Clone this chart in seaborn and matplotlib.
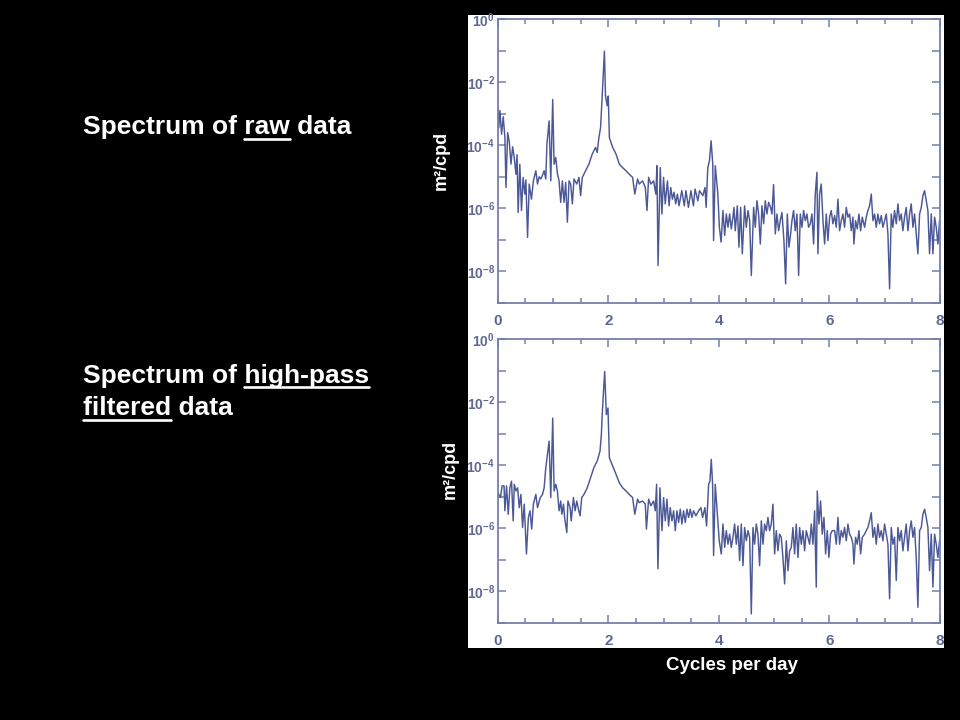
import numpy as np
import pandas as pd
import matplotlib
matplotlib.use('Agg')
import matplotlib.pyplot as plt
import seaborn as sns
from matplotlib.lines import Line2D
from matplotlib.patches import Rectangle
from matplotlib.ticker import MultipleLocator, NullLocator

# Spectrum of raw data: frequency (cycles per day) and log10 of power (m^2/cpd)
raw_freq = [
    0.00, 0.02, 0.04, 0.07, 0.10, 0.13, 0.15, 0.18, 0.21, 0.24,
    0.27, 0.30, 0.33, 0.35, 0.37, 0.40, 0.43, 0.46, 0.49, 0.51,
    0.54, 0.57, 0.61, 0.645, 0.69, 0.72, 0.75, 0.78, 0.81, 0.84,
    0.87, 0.89, 0.93, 0.96, 0.995, 1.02, 1.05, 1.08, 1.11, 1.14,
    1.17, 1.20, 1.23, 1.26, 1.29, 1.32, 1.35, 1.38, 1.43, 1.47,
    1.50, 1.53, 1.59, 1.65, 1.71, 1.77, 1.80, 1.83, 1.86, 1.89,
    1.93, 1.95, 1.98, 2.00, 2.02, 2.08, 2.14, 2.20, 2.26, 2.32,
    2.38, 2.44, 2.48, 2.53, 2.56, 2.62, 2.67, 2.70, 2.73, 2.77,
    2.82, 2.86, 2.88, 2.90, 2.94, 2.97, 3.00, 3.03, 3.07, 3.10,
    3.13, 3.16, 3.19, 3.22, 3.25, 3.28, 3.33, 3.375, 3.405, 3.45,
    3.495, 3.54, 3.57, 3.62, 3.65, 3.71, 3.75, 3.77, 3.80, 3.83,
    3.86, 3.89, 3.905, 3.935, 3.98, 4.01, 4.04, 4.074, 4.105, 4.135,
    4.165, 4.195, 4.225, 4.255, 4.273, 4.297, 4.334, 4.364, 4.394, 4.424,
    4.466, 4.496, 4.527, 4.557, 4.587, 4.629, 4.659, 4.689, 4.719, 4.75,
    4.78, 4.81, 4.84, 4.87, 4.90, 4.936, 4.96, 4.99, 5.021, 5.051,
    5.081, 5.111, 5.141, 5.177, 5.208, 5.238, 5.268, 5.298, 5.322, 5.352,
    5.382, 5.413, 5.443, 5.473, 5.503, 5.533, 5.563, 5.593, 5.623, 5.654,
    5.684, 5.714, 5.744, 5.774, 5.792, 5.822, 5.852, 5.883, 5.913, 5.943,
    5.973, 6.003, 6.033, 6.063, 6.094, 6.124, 6.154, 6.184, 6.214, 6.244,
    6.274, 6.305, 6.335, 6.365, 6.395, 6.425, 6.443, 6.473, 6.503, 6.534,
    6.564, 6.594, 6.636, 6.666, 6.696, 6.726, 6.757, 6.787, 6.817, 6.847,
    6.877, 6.907, 6.937, 6.968, 6.998, 7.028, 7.058, 7.088, 7.118, 7.148,
    7.178, 7.209, 7.239, 7.269, 7.299, 7.329, 7.359, 7.389, 7.42, 7.45,
    7.48, 7.51, 7.54, 7.57, 7.60, 7.631, 7.661, 7.691, 7.721, 7.751,
    7.781, 7.811, 7.842, 7.872, 7.902, 7.932, 7.962, 7.992,
]
raw_log_power = [
    -2.80, -3.44, -2.90, -3.65, -3.10, -3.75, -5.34, -3.60, -3.90, -4.60,
    -4.05, -4.40, -4.92, -4.30, -6.13, -4.60, -6.07, -5.02, -5.55, -5.10,
    -6.92, -5.23, -5.71, -5.13, -4.81, -5.23, -5.00, -5.07, -4.95, -4.81,
    -5.07, -3.97, -3.23, -5.13, -2.55, -4.60, -4.39, -4.90, -5.13, -5.81,
    -5.13, -5.81, -5.18, -6.44, -5.13, -5.23, -5.86, -5.07, -5.23, -5.02,
    -5.60, -5.02, -4.81, -4.60, -4.28, -4.07, -4.23, -3.76, -3.45, -2.45,
    -1.02, -2.44, -2.75, -2.44, -3.76, -4.07, -4.28, -4.60, -4.71, -4.81,
    -4.92, -5.02, -5.55, -5.07, -5.23, -5.13, -5.34, -6.07, -5.02, -5.23,
    -5.13, -5.55, -4.65, -7.81, -4.71, -6.18, -5.02, -5.86, -5.13, -5.92,
    -5.34, -5.71, -5.49, -5.86, -5.55, -5.92, -5.44, -5.92, -5.44, -5.97,
    -5.44, -5.92, -5.39, -5.76, -5.44, -5.60, -5.34, -5.97, -4.71, -4.49,
    -3.86, -4.60, -7.02, -4.65, -5.50, -6.60, -7.07, -6.07, -6.86, -6.18,
    -6.60, -6.18, -6.65, -6.28, -5.97, -6.71, -5.92, -7.23, -5.97, -7.44,
    -5.92, -6.60, -6.07, -6.39, -8.13, -5.97, -6.60, -5.76, -6.18, -7.13,
    -5.92, -6.49, -5.76, -6.18, -5.81, -5.97, -6.18, -5.25, -6.81, -6.18,
    -6.71, -6.39, -6.13, -7.02, -8.39, -6.18, -7.23, -6.81, -6.39, -6.07,
    -6.71, -6.18, -8.13, -6.18, -6.60, -6.07, -6.39, -6.18, -6.60, -6.49,
    -6.18, -7.13, -5.55, -4.86, -7.44, -5.55, -5.23, -6.39, -7.13, -6.18,
    -7.02, -6.28, -6.07, -6.49, -6.23, -6.60, -5.71, -6.71, -6.39, -6.18,
    -6.60, -5.97, -6.28, -6.18, -6.71, -6.28, -7.13, -6.39, -6.65, -6.18,
    -6.71, -6.28, -6.60, -6.28, -6.07, -5.92, -5.55, -6.39, -6.18, -6.60,
    -6.18, -6.49, -6.23, -6.60, -6.39, -6.18, -6.81, -8.55, -6.18, -6.60,
    -6.07, -6.49, -5.86, -6.39, -6.18, -6.71, -6.28, -5.97, -6.71, -6.18,
    -5.86, -6.60, -6.18, -6.81, -7.44, -6.18, -5.97, -5.60, -5.44, -5.76,
    -6.07, -7.44, -6.18, -7.44, -6.28, -6.60, -7.13, -6.39,
]

# Spectrum of high-pass filtered data
hp_freq = [
    0.00, 0.02, 0.05, 0.08, 0.115, 0.13, 0.16, 0.19, 0.22, 0.25,
    0.28, 0.30, 0.33, 0.36, 0.39, 0.42, 0.45, 0.48, 0.52, 0.555,
    0.585, 0.615, 0.645, 0.69, 0.72, 0.77, 0.81, 0.84, 0.87, 0.90,
    0.93, 0.96, 0.995, 1.02, 1.05, 1.08, 1.11, 1.14, 1.16, 1.19,
    1.21, 1.25, 1.27, 1.31, 1.33, 1.37, 1.40, 1.43, 1.46, 1.49,
    1.52, 1.56, 1.62, 1.68, 1.74, 1.80, 1.85, 1.875, 1.89, 1.935,
    1.965, 1.995, 2.02, 2.08, 2.14, 2.20, 2.26, 2.32, 2.38, 2.44,
    2.48, 2.53, 2.56, 2.62, 2.67, 2.69, 2.73, 2.77, 2.82, 2.85,
    2.874, 2.898, 2.934, 2.971, 3.001, 3.031, 3.061, 3.091, 3.121, 3.151,
    3.182, 3.212, 3.242, 3.272, 3.302, 3.332, 3.362, 3.393, 3.423, 3.453,
    3.483, 3.513, 3.543, 3.585, 3.634, 3.676, 3.706, 3.748, 3.778, 3.815,
    3.839, 3.863, 3.887, 3.905, 3.935, 3.977, 4.007, 4.044, 4.074, 4.105,
    4.135, 4.165, 4.195, 4.225, 4.255, 4.285, 4.316, 4.346, 4.376, 4.406,
    4.436, 4.466, 4.496, 4.527, 4.557, 4.587, 4.617, 4.647, 4.677, 4.707,
    4.737, 4.768, 4.798, 4.828, 4.858, 4.888, 4.918, 4.948, 4.978, 5.009,
    5.039, 5.069, 5.099, 5.129, 5.159, 5.19, 5.22, 5.25, 5.28, 5.31,
    5.34, 5.37, 5.40, 5.431, 5.461, 5.491, 5.521, 5.551, 5.581, 5.611,
    5.642, 5.672, 5.702, 5.732, 5.762, 5.78, 5.81, 5.84, 5.87, 5.901,
    5.931, 5.961, 5.991, 6.021, 6.051, 6.094, 6.124, 6.154, 6.184, 6.214,
    6.244, 6.274, 6.305, 6.335, 6.365, 6.395, 6.425, 6.443, 6.473, 6.503,
    6.534, 6.564, 6.594, 6.636, 6.666, 6.696, 6.726, 6.757, 6.787, 6.817,
    6.847, 6.877, 6.907, 6.937, 6.968, 6.998, 7.058, 7.088, 7.118, 7.148,
    7.178, 7.209, 7.239, 7.269, 7.299, 7.329, 7.359, 7.389, 7.42, 7.45,
    7.48, 7.51, 7.54, 7.57, 7.60, 7.631, 7.661, 7.691, 7.721, 7.751,
    7.781, 7.811, 7.842, 7.872, 7.902, 7.932, 7.962, 7.992,
]
hp_log_power = [
    -4.87, -4.93, -5.03, -4.66, -4.66, -5.45, -4.66, -5.56, -4.72, -4.51,
    -5.77, -4.61, -4.82, -4.72, -5.35, -4.93, -5.98, -5.24, -6.82, -5.66,
    -5.45, -6.03, -5.24, -4.93, -5.35, -5.03, -4.93, -4.72, -4.08, -3.66,
    -3.24, -5.03, -2.51, -4.82, -4.61, -4.82, -5.45, -5.14, -5.56, -5.24,
    -5.66, -6.14, -5.14, -5.35, -5.77, -5.03, -5.45, -5.14, -5.40, -5.61,
    -5.03, -4.93, -4.72, -4.40, -4.08, -3.87, -3.56, -3.03, -2.40, -1.03,
    -2.40, -2.19, -3.77, -4.03, -4.29, -4.56, -4.72, -4.82, -4.93, -5.03,
    -5.56, -5.08, -5.19, -5.14, -5.24, -6.03, -5.08, -5.29, -5.14, -5.45,
    -4.61, -7.29, -4.72, -6.08, -5.03, -5.77, -5.08, -5.93, -5.35, -5.77,
    -5.45, -6.08, -5.45, -5.82, -5.40, -5.87, -5.45, -5.82, -5.40, -5.66,
    -5.40, -5.66, -5.45, -5.61, -5.45, -5.35, -5.66, -5.35, -5.93, -4.61,
    -4.51, -3.82, -4.61, -6.87, -4.61, -5.66, -6.40, -6.82, -5.87, -6.61,
    -6.08, -6.51, -6.19, -6.61, -6.29, -5.87, -6.51, -5.93, -7.03, -5.87,
    -7.19, -5.98, -6.40, -6.08, -6.29, -8.72, -5.98, -6.51, -5.87, -6.19,
    -7.19, -5.77, -6.51, -5.87, -6.08, -5.66, -6.08, -5.87, -5.24, -6.82,
    -6.08, -6.72, -6.19, -6.29, -6.93, -7.77, -6.40, -7.35, -6.72, -6.61,
    -5.98, -6.82, -5.87, -6.93, -5.98, -6.51, -6.08, -6.72, -6.08, -6.29,
    -6.51, -5.87, -6.51, -5.45, -7.87, -4.82, -5.87, -5.14, -6.19, -5.66,
    -6.82, -6.08, -6.93, -6.19, -6.08, -6.08, -6.51, -5.66, -6.51, -6.08,
    -6.29, -5.98, -6.40, -5.87, -6.19, -6.29, -6.51, -7.14, -6.29, -6.51,
    -6.08, -6.82, -6.29, -6.19, -6.08, -5.98, -5.77, -5.51, -6.29, -5.98,
    -6.51, -5.87, -6.29, -6.08, -6.40, -5.87, -6.51, -8.24, -5.98, -6.51,
    -6.29, -7.66, -5.98, -6.40, -6.08, -6.72, -6.29, -5.87, -6.72, -6.08,
    -5.77, -6.29, -5.98, -6.93, -8.51, -6.08, -5.98, -5.56, -5.40, -5.66,
    -5.98, -7.35, -6.19, -7.87, -6.19, -6.51, -6.93, -6.40,
]

x_ticks = [0, 2, 4, 6, 8]
decades = list(range(-9, 1))

assert len(raw_freq) == len(raw_log_power)
assert len(hp_freq) == len(hp_log_power)

sns.set_theme(style='ticks')
plt.rcParams['font.family'] = ['Liberation Sans', 'DejaVu Sans']
plt.rcParams['mathtext.fontset'] = 'custom'
plt.rcParams['mathtext.rm'] = 'Liberation Sans'
plt.rcParams['mathtext.bf'] = 'Liberation Sans:bold'

W, H = 960, 720
LINE = '#4b5896'
FRAME = '#7480aa'
LABEL = '#5d6895'

fig = plt.figure(figsize=(W / 100, H / 100), dpi=100, facecolor='black')
renderer = fig.canvas.get_renderer()


def px_rect(left, top, right, bottom):
    """Rectangle in pixels (origin top-left) -> figure fraction."""
    return [left / W, 1 - bottom / H, (right - left) / W, (bottom - top) / H]


# White backing panel behind the two spectra
l, b, w, h = px_rect(468, 15, 944, 648)
fig.add_artist(Rectangle((l, b), w, h, transform=fig.transFigure,
                         facecolor='white', edgecolor='none', zorder=0))


def spectrum_panel(rect, freq, log_power):
    ax = fig.add_axes(rect)
    df = pd.DataFrame({'freq': freq, 'power': 10.0 ** np.array(log_power)})
    sns.lineplot(data=df, x='freq', y='power', ax=ax, color=LINE,
                 linewidth=1.05, estimator=None, sort=False)
    ax.set_yscale('log')
    ax.set_ylim(1e-9, 1)
    ax.set_xlim(0, 8)

    ax.set_xticks(x_ticks)
    ax.set_xticklabels([str(t) for t in x_ticks], fontsize=11, fontweight='bold')
    ax.xaxis.set_minor_locator(MultipleLocator(0.5))

    ylabels = [r'$\mathbf{10^{%d}}$' % k if k % 2 == 0 else '' for k in decades]
    ax.set_yticks([10.0 ** k for k in decades])
    ax.set_yticklabels(ylabels, fontsize=10)
    ax.yaxis.set_minor_locator(NullLocator())

    ax.tick_params(which='both', direction='in', top=True, right=True,
                   color=FRAME, labelcolor=LABEL, width=1.1)
    ax.tick_params(which='major', length=6)
    ax.tick_params(which='minor', length=3.5)
    ax.tick_params(axis='x', pad=8)
    ax.tick_params(axis='y', pad=2)
    for spine in ax.spines.values():
        spine.set_color(FRAME)
        spine.set_linewidth(1.3)
    ax.set_xlabel('')
    ax.set_ylabel('')
    ax.set_facecolor('white')
    return ax


ax_raw = spectrum_panel(px_rect(497.7, 19, 940, 303), raw_freq, raw_log_power)
ax_hp = spectrum_panel(px_rect(497.7, 339, 940, 622.7), hp_freq, hp_log_power)

# Axis titles on the black background
fig.text(441 / W, 1 - 160 / H, 'm²/cpd', rotation=90, color='white',
         fontsize=13, fontweight='bold', ha='center', va='center')
fig.text(450 / W, 1 - 469 / H, 'm²/cpd', rotation=90, color='white',
         fontsize=13, fontweight='bold', ha='center', va='center')
fig.text(732 / W, 1 - 666 / H, 'Cycles per day', color='white',
         fontsize=13.5, fontweight='bold', ha='center', va='center')


def text_width(s, size):
    t = fig.text(0, 0, s, fontsize=size, fontweight='bold')
    width = t.get_window_extent(renderer).width
    t.remove()
    return width


def caption(x, baseline, text, word, line_y, size=19):
    """Left caption text with one underlined word (pixel coords, top-left origin)."""
    fig.text(x / W, 1 - baseline / H, text, color='white', fontsize=size,
             fontweight='bold', ha='left', va='baseline')
    end = x + text_width(text[:text.index(word) + len(word)], size)
    start = end - text_width(word, size)
    fig.add_artist(Line2D([start / W, end / W], [1 - line_y / H] * 2,
                          transform=fig.transFigure, color='white', linewidth=1.9))


caption(83, 134, 'Spectrum of raw data', 'raw', 139)
caption(83, 382.5, 'Spectrum of high-pass', 'high-pass', 387)
caption(83, 415, 'filtered data', 'filtered', 419.5)

fig.savefig('out.png', dpi=100, facecolor='black')
